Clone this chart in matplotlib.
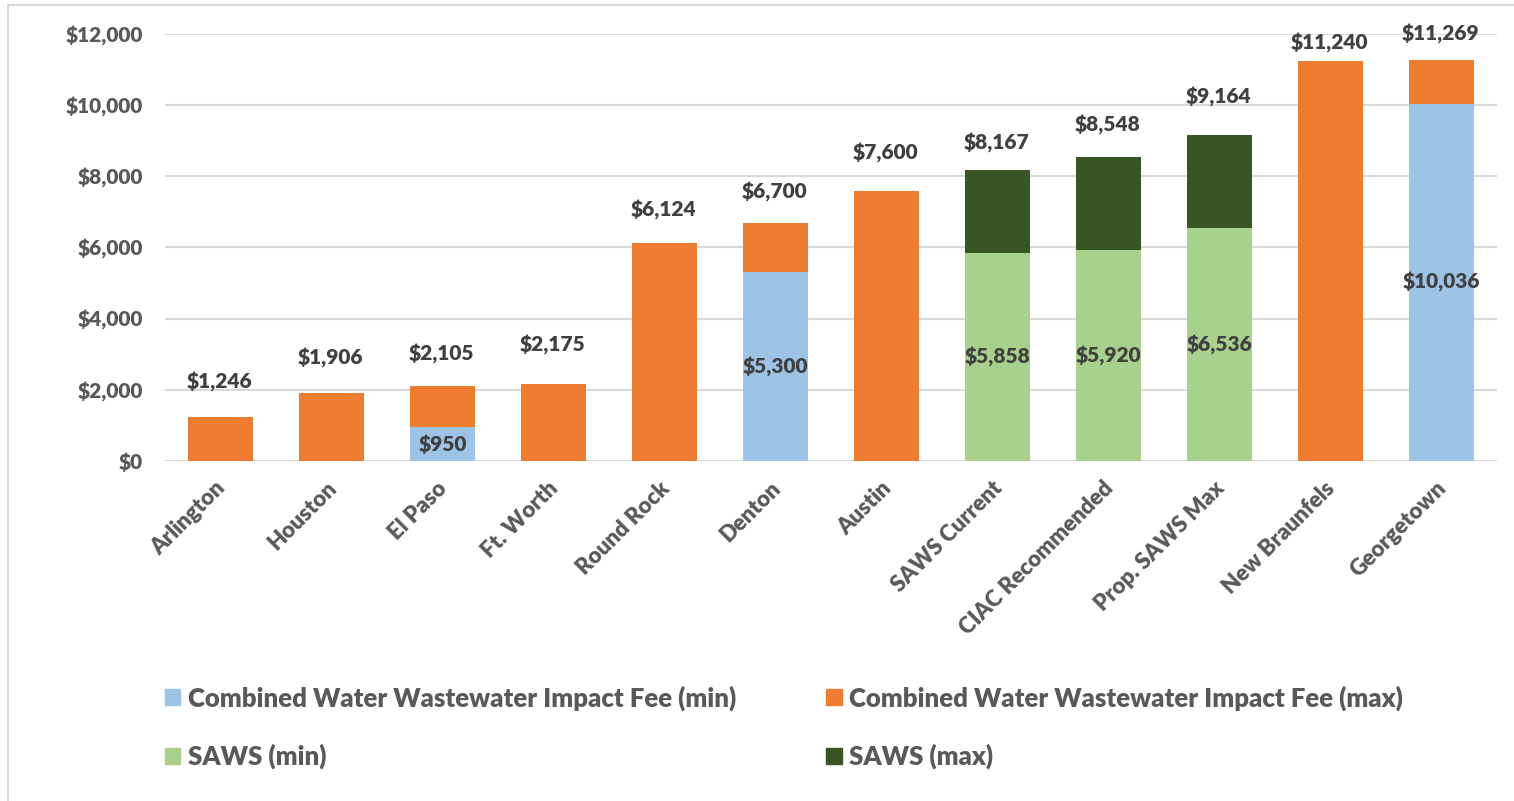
import numpy as np
import matplotlib
matplotlib.use("Agg")
import matplotlib.pyplot as plt
import matplotlib.transforms as mtransforms
from matplotlib.lines import Line2D
from matplotlib.patches import Patch

plt.rcParams['font.family'] = ['Lato', 'DejaVu Sans']
plt.rcParams['font.weight'] = 'heavy'

# Data
cities = ["Arlington", "Houston", "El Paso", "Ft. Worth", "Round Rock", "Denton",
          "Austin", "SAWS Current", "CIAC Recommended", "Prop. SAWS Max",
          "New Braunfels", "Georgetown"]
combined_min = [0, 0, 950, 0, 0, 5300, 0, 0, 0, 0, 0, 10036]
combined_max = [1246, 1906, 2105, 2175, 6124, 6700, 7600, 0, 0, 0, 11240, 11269]
saws_min = [0, 0, 0, 0, 0, 0, 0, 5858, 5920, 6536, 0, 0]
saws_max = [0, 0, 0, 0, 0, 0, 0, 8167, 8548, 9164, 0, 0]

# how far (points) each total label sits above its bar, as in the reference
label_lift = [25, 25, 23, 28, 24, 22, 27, 20, 23, 27, 13, 19]

c_min_col = "#9DC3E6"
c_max_col = "#ED7D31"
s_min_col = "#A9D18E"
s_max_col = "#375623"
axis_txt = "#595959"
lab_txt = "#404040"

cmin = np.array(combined_min, float)
cmax = np.array(combined_max, float)
smin = np.array(saws_min, float)
smax = np.array(saws_max, float)
x = np.arange(len(cities))
w = 0.59

fig = plt.figure(figsize=(15.14, 8.01), dpi=100)
ax = fig.add_axes([165 / 1514, 1 - 461 / 801, 1332 / 1514, 427 / 801])

ax.bar(x, cmin, w, color=c_min_col, zorder=2)
ax.bar(x, np.where(cmax > 0, cmax - cmin, 0), w, bottom=cmin, color=c_max_col, zorder=2)
ax.bar(x, smin, w, color=s_min_col, zorder=2)
ax.bar(x, np.where(smax > 0, smax - smin, 0), w, bottom=smin, color=s_max_col, zorder=2)

# labels: min values centred in their segment, totals above the bar
for i in range(len(cities)):
    lo = cmin[i] if cmin[i] > 0 else smin[i]
    if lo > 0:
        ax.text(x[i], lo / 2, f"${lo:,.0f}", ha="center", va="center",
                fontsize=15, color=lab_txt, fontweight="heavy", zorder=3)
    top = max(cmax[i], smax[i])
    ax.annotate(f"${top:,.0f}", (x[i], top), xytext=(-1, label_lift[i]),
                textcoords="offset points", ha="center", va="center", fontsize=15,
                color=lab_txt, fontweight="heavy", annotation_clip=False)

ax.set_xlim(-0.5, len(cities) - 0.5)
ax.set_ylim(0, 12000)
ax.set_yticks(np.arange(0, 12001, 2000))
ax.set_yticklabels([f"${v:,.0f}" for v in np.arange(0, 12001, 2000)])
ax.grid(axis="y", color="#D9D9D9", linewidth=1.5, zorder=0)
for s in ax.spines.values():
    s.set_visible(False)
ax.tick_params(axis="y", length=0, pad=16, labelsize=15, labelcolor=axis_txt)
ax.tick_params(axis="x", length=0, pad=12, labelsize=16, labelcolor=axis_txt)
ax.set_xticks(x)
ax.set_xticklabels(cities, rotation=45, ha="right", va="top", rotation_mode="anchor",
                   fontweight="heavy")
shift = mtransforms.ScaledTranslation(-6 / 100, 0, fig.dpi_scale_trans)
for t in ax.get_xticklabels():
    t.set_transform(t.get_transform() + shift)

handles = [Patch(color=c_min_col), Patch(color=s_min_col),
           Patch(color=c_max_col), Patch(color=s_max_col)]
labels = ["Combined Water Wastewater Impact Fee (min)", "SAWS (min)",
          "Combined Water Wastewater Impact Fee (max)", "SAWS (max)"]
leg = fig.legend(handles, labels, ncol=2, loc="upper left",
                 bbox_to_anchor=(165 / 1514, 1 - 685 / 801), frameon=False,
                 prop={"size": 18.5, "weight": "heavy"},
                 handlelength=0.6, handleheight=0.6,
                 handletextpad=0.3, columnspacing=3.5, labelspacing=1.3,
                 borderpad=0, borderaxespad=0)
for t in leg.get_texts():
    t.set_color(axis_txt)

# outer chart border
fig.add_artist(Line2D([8 / 1514, 8 / 1514], [0, 1 - 5 / 801], color="#D9D9D9", lw=1.5))
fig.add_artist(Line2D([8 / 1514, 1], [1 - 5 / 801, 1 - 5 / 801], color="#D9D9D9", lw=1.5))

fig.savefig("out.png", dpi=100)
